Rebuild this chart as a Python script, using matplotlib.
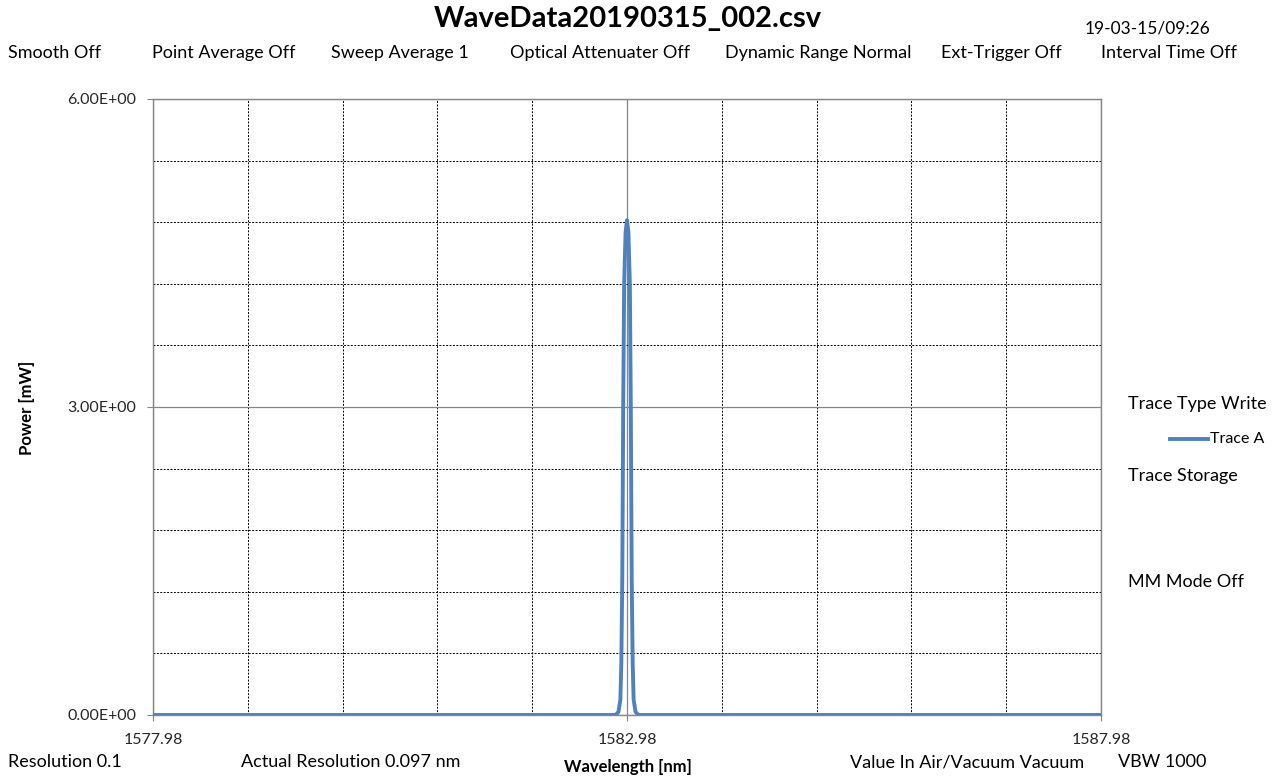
import matplotlib
matplotlib.use("Agg")
import matplotlib.pyplot as plt
import numpy as np
from matplotlib.ticker import FixedLocator

plt.rcParams['font.family'] = ['Lato', 'DejaVu Sans']

# trace A (nm, mW)
wavelength = [1577.98, 1582.86, 1582.89, 1582.91, 1582.92, 1582.93, 1582.94,
              1582.95, 1582.965, 1582.98, 1582.995, 1583.01, 1583.02, 1583.03,
              1583.04, 1583.05, 1583.07, 1583.10, 1587.98]
power = [0.0, 0.0, 0.03, 0.15, 0.50, 1.30, 3.00,
         4.20, 4.70, 4.82, 4.70, 4.20, 3.00, 1.30,
         0.50, 0.15, 0.03, 0.0, 0.0]

x_ticks = [1577.98, 1582.98, 1587.98]
y_ticks = [0.0, 3.0, 6.0]

header = ["Smooth Off", "Point Average Off", "Sweep Average 1", "Optical Attenuater Off",
          "Dynamic Range Normal", "Ext-Trigger Off", "Interval Time Off"]
header_x = [8, 152, 331, 510, 725, 941, 1101]
footer = ["Resolution 0.1", "Actual Resolution 0.097 nm", "Value In Air/Vacuum Vacuum", "VBW 1000"]
footer_x = [8, 241, 850, 1118]

W, H = 1280, 780
fig = plt.figure(figsize=(12.8, 7.8), dpi=100)
ax = fig.add_axes([153 / W, 1 - 715 / H, (1101 - 153) / W, (715 - 99) / H])

ax.plot(wavelength, power, color='#4F81BD', lw=2.8, solid_joinstyle='round', zorder=3)

ax.set_xlim(x_ticks[0], x_ticks[-1])
ax.set_ylim(y_ticks[0], y_ticks[-1])
ax.xaxis.set_major_locator(FixedLocator(x_ticks))
ax.yaxis.set_major_locator(FixedLocator(y_ticks))
# minor grid every 1 nm / 0.6 mW, skipping the major lines
xm = [v for v in np.arange(x_ticks[0], x_ticks[-1], 1.0) if min(abs(v - t) for t in x_ticks) > 1e-6]
ym = [v for v in np.arange(0.6, 6.0, 0.6) if min(abs(v - t) for t in y_ticks) > 1e-6]
ax.xaxis.set_minor_locator(FixedLocator(xm))
ax.yaxis.set_minor_locator(FixedLocator(ym))
ax.set_xticklabels([f"{v:.2f}" for v in x_ticks])
ax.set_yticklabels([f"{v:.2E}" for v in y_ticks])

ax.grid(which='major', color='#868686', lw=0.9, ls='-')
ax.grid(which='minor', color='black', lw=0.7, ls=(0, (2, 1.5)))
ax.set_axisbelow(True)
for s in ax.spines.values():
    s.set_color('#868686')
    s.set_linewidth(1.0)
ax.tick_params(which='major', direction='out', length=4, color='#868686',
               labelsize=11.5, labelcolor='#262626', pad=9)
ax.tick_params(axis='y', pad=8)
ax.tick_params(which='minor', length=0)

fig.text(628 / W, 1 - 767 / H, "Wavelength [nm]", ha='center', va='center',
         fontsize=12, fontweight='bold')
fig.text(27 / W, 1 - 408 / H, "Power [mW]", ha='center', va='center', rotation=90,
         fontsize=12, fontweight='bold')

fig.text(628 / W, 1 - 19 / H, "WaveData20190315_002.csv", ha='center', va='center',
         fontsize=21, fontweight='bold')
fig.text(1085 / W, 1 - 28 / H, "19-03-15/09:26", ha='left', va='center', fontsize=12.5)
for t, x in zip(header, header_x):
    fig.text(x / W, 1 - 53 / H, t, ha='left', va='center', fontsize=13)
for t, x in zip(footer, footer_x):
    fig.text(x / W, 1 - 762 / H, t, ha='left', va='center', fontsize=13)

fig.text(1128 / W, 1 - 404 / H, "Trace Type Write", ha='left', va='center', fontsize=13)
fig.lines.append(plt.Line2D([1170 / W, 1208 / W], [1 - 439 / H, 1 - 439 / H],
                            transform=fig.transFigure, color='#4F81BD', lw=2.8))
fig.text(1210 / W, 1 - 439 / H, "Trace A", ha='left', va='center', fontsize=11.5)
fig.text(1128 / W, 1 - 476 / H, "Trace Storage", ha='left', va='center', fontsize=13)
fig.text(1128 / W, 1 - 582 / H, "MM Mode Off", ha='left', va='center', fontsize=13)

fig.savefig("out.png", dpi=100)
